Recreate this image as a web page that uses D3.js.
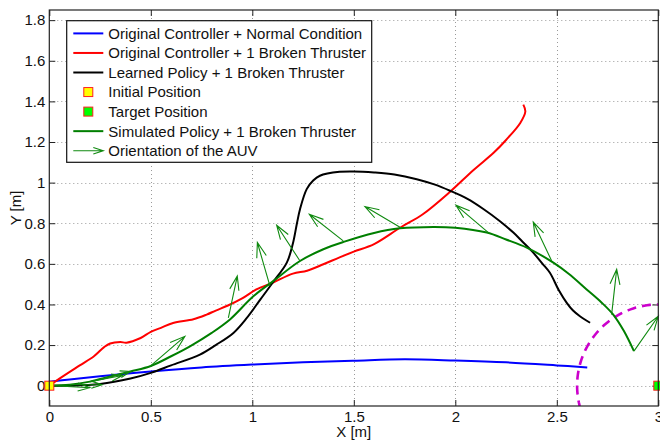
<!DOCTYPE html>
<html>
<head>
<meta charset="utf-8">
<script src="https://cdn.jsdelivr.net/npm/d3@7"></script>
<style>
html,body{margin:0;padding:0;background:#fff;}
svg{display:block;font-family:"Liberation Sans",Arial,Helvetica,sans-serif;}
</style>
</head>
<body>
<svg id="chart" width="660" height="443"></svg>
<script>
// ---------- data ----------
const xTicks = [0, 0.5, 1, 1.5, 2, 2.5, 3];
const xTickLabels = ["0", "0.5", "1", "1.5", "2", "2.5", "3"];
const yTicks = [0, 0.2, 0.4, 0.6, 0.8, 1, 1.2, 1.4, 1.6, 1.8];
const yTickLabels = ["0", "0.2", "0.4", "0.6", "0.8", "1", "1.2", "1.4", "1.6", "1.8"];

const legendLabels = [
  "Original Controller + Normal Condition",
  "Original Controller + 1 Broken Thruster",
  "Learned Policy + 1 Broken Thruster",
  "Initial Position",
  "Target Position",
  "Simulated Policy + 1 Broken Thruster",
  "Orientation of the AUV"
];

// Original controller, normal condition (blue)
const normalX = [0, 0.1, 0.25, 0.5, 0.75, 1.0, 1.25, 1.5, 1.75, 2.0, 2.25, 2.5, 2.65];
const normalY = [0.02, 0.03, 0.046, 0.07, 0.09, 0.104, 0.115, 0.123, 0.13, 0.124, 0.115, 0.1, 0.09];

// Original controller, 1 broken thruster (red)
const brokenX = [0, 0.05, 0.15, 0.22, 0.27, 0.3, 0.35, 0.38, 0.45, 0.5, 0.55, 0.61, 0.71, 0.775, 0.82, 0.88, 0.95, 1.02, 1.1, 1.2, 1.27, 1.35, 1.43, 1.5, 1.6, 1.73, 1.84, 1.97, 2.09, 2.19, 2.25, 2.32, 2.345, 2.335];
const brokenY = [0, 0.035, 0.1, 0.145, 0.19, 0.208, 0.215, 0.212, 0.235, 0.265, 0.285, 0.309, 0.327, 0.35, 0.37, 0.395, 0.43, 0.474, 0.507, 0.552, 0.566, 0.598, 0.632, 0.66, 0.697, 0.779, 0.844, 0.951, 1.062, 1.148, 1.21, 1.294, 1.35, 1.384];

// Learned policy, 1 broken thruster (black)
const learnedX = [0, 0.1, 0.25, 0.4, 0.5, 0.6, 0.742, 0.82, 0.907, 0.97, 1.04, 1.1, 1.17, 1.2, 1.22, 1.235, 1.268, 1.3, 1.333, 1.43, 1.5, 1.6, 1.7, 1.81, 1.9, 1.974, 2.06, 2.14, 2.22, 2.286, 2.33, 2.384, 2.43, 2.466, 2.51, 2.549, 2.58, 2.614, 2.664];
const learnedY = [0, 0, 0.008, 0.035, 0.063, 0.1, 0.153, 0.2, 0.26, 0.33, 0.425, 0.507, 0.606, 0.7, 0.8, 0.869, 0.968, 1.01, 1.034, 1.053, 1.055, 1.05, 1.04, 1.017, 0.99, 0.96, 0.92, 0.869, 0.81, 0.754, 0.71, 0.655, 0.6, 0.556, 0.47, 0.408, 0.37, 0.342, 0.31];

// Simulated policy, 1 broken thruster (green)
const simX = [0, 0.1, 0.2, 0.3, 0.4, 0.5, 0.6, 0.693, 0.8, 0.89, 1.005, 1.103, 1.235, 1.35, 1.45, 1.6, 1.727, 1.892, 2.0, 2.155, 2.25, 2.352, 2.483, 2.56, 2.647, 2.72, 2.778, 2.83, 2.88];
const simY = [0, 0.005, 0.02, 0.045, 0.07, 0.097, 0.145, 0.194, 0.26, 0.326, 0.44, 0.515, 0.614, 0.672, 0.708, 0.752, 0.775, 0.782, 0.778, 0.754, 0.72, 0.68, 0.606, 0.55, 0.474, 0.41, 0.35, 0.27, 0.17];

// Orientation arrows (base -> tip)
const arrowX0 = [0.02, 0.1, 0.2, 0.25, 0.496, 0.882, 1.087, 1.235, 1.448, 1.736, 2.163, 2.475, 2.77, 2.88];
const arrowY0 = [0.0, 0.005, 0.02, 0.03, 0.095, 0.334, 0.49, 0.614, 0.713, 0.775, 0.754, 0.614, 0.35, 0.17];
const arrowX1 = [0.2, 0.26, 0.36, 0.4, 0.668, 0.926, 1.025, 1.12, 1.281, 1.555, 2.003, 2.384, 2.795, 3.0];
const arrowY1 = [-0.01, 0.005, 0.05, 0.07, 0.243, 0.54, 0.705, 0.79, 0.844, 0.882, 0.889, 0.806, 0.573, 0.342];

const initialPos = [0, 0];
const targetPos = [3, 0];
const targetRadius = 0.4;

// ---------- layout ----------
const W = 660, H = 443;
const plotL = 49.3, plotR = 658.3, plotT = 10, plotB = 406;
const svg = d3.select("#chart");

const x = d3.scaleLinear().domain([0, 3]).range([plotL, plotR]);
const y = d3.scaleLinear().domain([-0.1, 1.85]).range([plotB, plotT]);

svg.append("defs").append("clipPath").attr("id", "clip")
  .append("rect").attr("x", plotL).attr("y", plotT)
  .attr("width", plotR - plotL).attr("height", plotB - plotT);

// grid
const grid = svg.append("g").attr("stroke", "#9a9a9a").attr("stroke-width", 1).attr("stroke-dasharray", "1,3");
grid.selectAll(".gx").data(xTicks.filter(d => d > 0 && d < 3)).enter().append("line")
  .attr("x1", d => Math.round(x(d)) + 0.5).attr("x2", d => Math.round(x(d)) + 0.5)
  .attr("y1", plotT).attr("y2", plotB);
grid.selectAll(".gy").data(yTicks).enter().append("line")
  .attr("y1", d => Math.round(y(d)) + 0.5).attr("y2", d => Math.round(y(d)) + 0.5)
  .attr("x1", plotL).attr("x2", plotR);

// axes
const fmtX = d => xTickLabels[xTicks.indexOf(d)];
const fmtY = d => yTickLabels[yTicks.indexOf(d)];
const axB = svg.append("g").attr("transform", `translate(0,${plotB})`)
  .call(d3.axisBottom(x).tickValues(xTicks).tickFormat(fmtX).tickSizeInner(-6).tickSizeOuter(0).tickPadding(5));
const axL = svg.append("g").attr("transform", `translate(${plotL},0)`)
  .call(d3.axisLeft(y).tickValues(yTicks).tickFormat(fmtY).tickSizeInner(-6).tickSizeOuter(0).tickPadding(4));
const axT = svg.append("g").attr("transform", `translate(0,${plotT})`)
  .call(d3.axisTop(x).tickValues(xTicks).tickFormat("").tickSizeInner(-6).tickSizeOuter(0));
const axR = svg.append("g").attr("transform", `translate(${plotR},0)`)
  .call(d3.axisRight(y).tickValues(yTicks).tickFormat("").tickSizeInner(-6).tickSizeOuter(0));
[axB, axL, axT, axR].forEach(g => {
  g.selectAll("text").attr("font-size", 15).attr("fill", "#111").attr("font-family", "Liberation Sans, Arial, sans-serif");
  g.selectAll("line").attr("stroke", "#222");
  g.select(".domain").remove();
});

// axis labels
svg.append("text").attr("x", (plotL + plotR) / 2).attr("y", 437).attr("text-anchor", "middle")
  .attr("font-size", 15).attr("fill", "#111").text("X [m]");
svg.append("text").attr("transform", `translate(21,${(plotT + plotB) / 2}) rotate(-90)`).attr("text-anchor", "middle")
  .attr("font-size", 15).attr("fill", "#111").text("Y [m]");

// data layer
const layer = svg.append("g").attr("clip-path", "url(#clip)");
const lineGen = d3.line().x(d => x(d[0])).y(d => y(d[1])).curve(d3.curveCatmullRom.alpha(0.5));
const zip = (a, b) => a.map((v, i) => [v, b[i]]);

// target circle (dashed magenta)
const circPts = d3.range(0, 361, 2).map(a => [targetPos[0] + targetRadius * Math.cos(a * Math.PI / 180), targetPos[1] + targetRadius * Math.sin(a * Math.PI / 180)]);
layer.append("path").attr("d", d3.line().x(d => x(d[0])).y(d => y(d[1]))(circPts))
  .attr("fill", "none").attr("stroke", "#cc00cc").attr("stroke-width", 2.6).attr("stroke-dasharray", "9,6");

layer.append("path").attr("d", lineGen(zip(normalX, normalY))).attr("fill", "none").attr("stroke", "#0000ff").attr("stroke-width", 2);
layer.append("path").attr("d", lineGen(zip(brokenX, brokenY))).attr("fill", "none").attr("stroke", "#ff0000").attr("stroke-width", 2);
layer.append("path").attr("d", lineGen(zip(learnedX, learnedY))).attr("fill", "none").attr("stroke", "#000000").attr("stroke-width", 2);
layer.append("path").attr("d", lineGen(zip(simX, simY))).attr("fill", "none").attr("stroke", "#007f00").attr("stroke-width", 2);

// quiver arrows (MATLAB style heads)
function arrowPath(px0, py0, px1, py1) {
  const u = px1 - px0, v = py1 - py0;
  const a = 0.33, b = 0.33;
  const h1 = [px1 - a * (u + b * v), py1 - a * (v - b * u)];
  const h2 = [px1 - a * (u - b * v), py1 - a * (v + b * u)];
  return `M${px0},${py0}L${px1},${py1}M${h1[0]},${h1[1]}L${px1},${py1}L${h2[0]},${h2[1]}`;
}
const arrowsG = svg.append("g");
arrowX0.forEach((d, i) => {
  arrowsG.append("path")
    .attr("d", arrowPath(x(arrowX0[i]), y(arrowY0[i]), x(arrowX1[i]), y(arrowY1[i])))
    .attr("fill", "none").attr("stroke", "#108a10").attr("stroke-width", 1.1);
});

// markers
const ms = 9;
svg.append("rect").attr("x", x(initialPos[0]) - ms / 2).attr("y", y(initialPos[1]) - ms / 2)
  .attr("width", ms).attr("height", ms).attr("fill", "#ffff00").attr("stroke", "#ff2020").attr("stroke-width", 1);
svg.append("rect").attr("x", x(targetPos[0]) - ms / 2).attr("y", y(targetPos[1]) - ms / 2)
  .attr("width", ms).attr("height", ms).attr("fill", "#00ff00").attr("stroke", "#ff2020").attr("stroke-width", 1);

// frame
svg.append("rect").attr("x", plotL).attr("y", plotT).attr("width", plotR - plotL).attr("height", plotB - plotT)
  .attr("fill", "none").attr("stroke", "#222").attr("stroke-width", 1.2);

// legend
const lg = svg.append("g");
const lgX = 66.7, lgY = 20.7, lgW = 305, lgH = 141.6;
lg.append("rect").attr("x", lgX).attr("y", lgY).attr("width", lgW).attr("height", lgH)
  .attr("fill", "#fff").attr("stroke", "#111").attr("stroke-width", 1.2);
const rowY = i => 33.4 + i * 19.55;
const sx0 = 73.3, sx1 = 103.3, tx = 108.3;
const legendKinds = ["line", "line", "line", "sq", "sq", "line", "arrow"];
const legendColors = ["#0000ff", "#ff0000", "#000000", "#ffff00", "#00ff00", "#007f00", "#108a10"];
legendLabels.forEach((lab, i) => {
  const cy = rowY(i);
  if (legendKinds[i] === "line") {
    lg.append("line").attr("x1", sx0).attr("x2", sx1).attr("y1", cy).attr("y2", cy)
      .attr("stroke", legendColors[i]).attr("stroke-width", 2);
  } else if (legendKinds[i] === "sq") {
    lg.append("rect").attr("x", 88.3 - ms / 2).attr("y", cy - ms / 2).attr("width", ms).attr("height", ms)
      .attr("fill", legendColors[i]).attr("stroke", "#ff2020").attr("stroke-width", 1);
  } else {
    lg.append("path").attr("d", `M${sx0},${cy}L${sx1},${cy}M${sx1 - 10},${cy - 3.3}L${sx1},${cy}L${sx1 - 10},${cy + 3.3}`)
      .attr("fill", "none").attr("stroke", legendColors[i]).attr("stroke-width", 1.1);
  }
  lg.append("text").attr("x", tx).attr("y", cy + 5.4).attr("font-size", 15).attr("fill", "#111").text(lab);
});
</script>
</body>
</html>
